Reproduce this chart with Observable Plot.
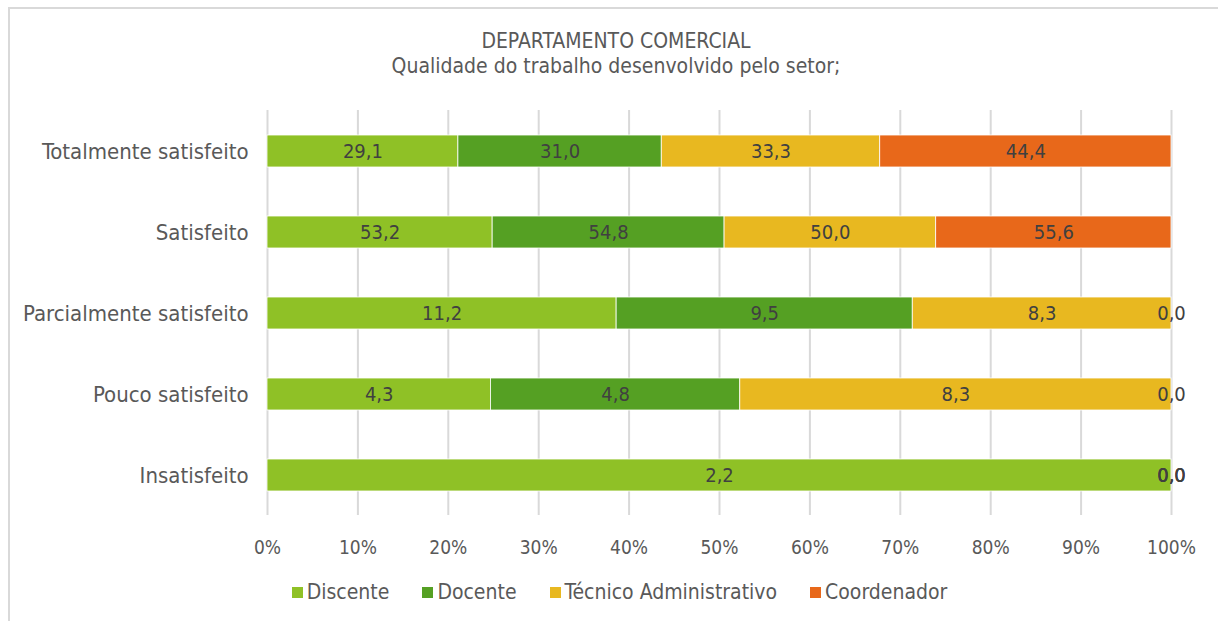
<!DOCTYPE html>
<html>
<head>
<meta charset="utf-8">
<script src="https://cdn.jsdelivr.net/npm/d3@7"></script>
<script src="https://cdn.jsdelivr.net/npm/@observablehq/plot@0.6"></script>
<style>
  html, body { margin: 0; padding: 0; background: #fff; }
  body { position: relative; width: 1218px; height: 621px; overflow: hidden; font-family: "DejaVu Sans Condensed", "DejaVu Sans", sans-serif; }
  #frame { position: absolute; left: 8px; top: 7px; width: 1300px; height: 700px; border: 2px solid #d9d9d9; box-sizing: border-box; }
  .ttl { position: absolute; left: 0; width: 1232px; text-align: center; color: #595959; font-size: 21px; line-height: 24px; white-space: nowrap; }
  #chart { position: absolute; left: 0; top: 0; }
  #legend { position: absolute; left: 0; width: 1239px; top: 579px; display: flex; justify-content: center; gap: 33px; color: #595959; font-size: 21px; line-height: 26px; }
  #legend .item { display: flex; align-items: center; white-space: nowrap; }
  #legend .sw { width: 11px; height: 11px; margin-right: 4px; }
</style>
</head>
<body>
<div id="frame"></div>
<div class="ttl" style="top:29px">DEPARTAMENTO COMERCIAL</div>
<div class="ttl" style="top:54px">Qualidade do trabalho desenvolvido pelo setor;</div>
<div id="chart"></div>
<div id="legend"></div>
<script>
const categories = ["Totalmente satisfeito", "Satisfeito", "Parcialmente satisfeito", "Pouco satisfeito", "Insatisfeito"];
const series = ["Discente", "Docente", "Técnico Administrativo", "Coordenador"];
const colors = ["#8fc126", "#55a023", "#e8b820", "#e8681a"];
const discente = [29.1, 53.2, 11.2, 4.3, 2.2];
const docente = [31.0, 54.8, 9.5, 4.8, 0.0];
const tecnico = [33.3, 50.0, 8.3, 8.3, 0.0];
const coordenador = [44.4, 55.6, 0.0, 0.0, 0.0];
const xTicks = [0, 0.1, 0.2, 0.3, 0.4, 0.5, 0.6, 0.7, 0.8, 0.9, 1.0];

const valuesBySeries = [discente, docente, tecnico, coordenador];
const data = [];
categories.forEach((cat, i) => {
  series.forEach((s, j) => {
    data.push({cat, series: s, value: valuesBySeries[j][i]});
  });
});
const fmt = v => v.toFixed(1).replace(".", ",");

const chart = Plot.plot({
  width: 1218,
  height: 570,
  marginLeft: 267,
  marginRight: 47,
  marginTop: 110,
  marginBottom: 55,
  style: {fontFamily: "'DejaVu Sans Condensed', 'DejaVu Sans', sans-serif", color: "#595959", background: "transparent"},
  x: {domain: [0, 1], label: null},
  y: {domain: categories, label: null, paddingInner: 0.605, paddingOuter: 0.3025},
  color: {domain: series, range: colors},
  marks: [
    Plot.gridX(xTicks, {stroke: "#d9d9d9", strokeOpacity: 1, strokeWidth: 2}),
    Plot.axisX({ticks: xTicks, tickFormat: d => Math.round(d * 100) + "%", tickSize: 0, tickPadding: 25, fontSize: 19, fill: "#595959", label: null}),
    Plot.axisY({tickSize: 0, tickPadding: 19, fontSize: 22, fill: "#595959", label: null}),
    Plot.barX(data, Plot.stackX({x: "value", y: "cat", z: "series", order: series, offset: "normalize", fill: "series", stroke: "white", strokeWidth: 0.8})),
    Plot.textX(data, Plot.stackX({x: "value", y: "cat", z: "series", order: series, offset: "normalize", text: d => fmt(d.value), fill: "#404040", fontSize: 20}))
  ]
});
document.getElementById("chart").appendChild(chart);

const legend = document.getElementById("legend");
series.forEach((s, i) => {
  const item = document.createElement("div");
  item.className = "item";
  const sw = document.createElement("span");
  sw.className = "sw";
  sw.style.background = colors[i];
  const t = document.createElement("span");
  t.textContent = s;
  item.appendChild(sw);
  item.appendChild(t);
  legend.appendChild(item);
});
</script>
</body>
</html>
